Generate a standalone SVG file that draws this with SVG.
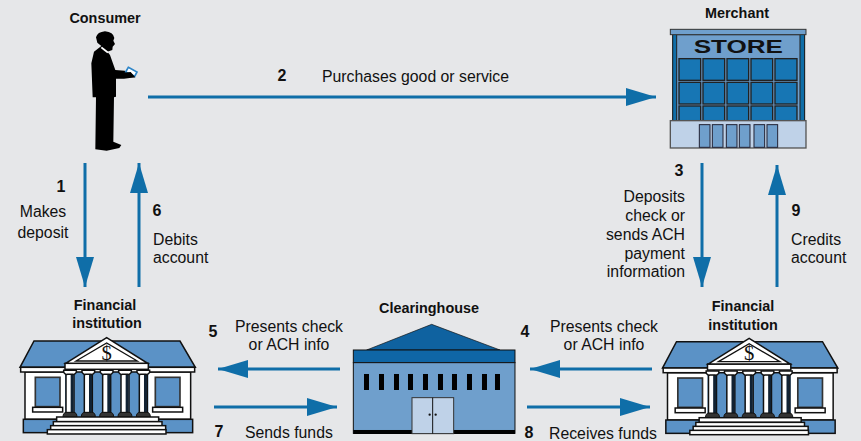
<svg xmlns="http://www.w3.org/2000/svg" width="861" height="441" viewBox="0 0 861 441">
<style>
text{font-family:"Liberation Sans",Arial,sans-serif;fill:#111}
.t{font-size:15.8px}
.b{font-size:14.4px;font-weight:bold;text-anchor:middle}
.n{font-size:16px;font-weight:bold;text-anchor:middle}
.m{text-anchor:middle}
.e{text-anchor:end}
.c{stroke:#0f6ea8;stroke-width:3;fill:none;marker-end:url(#ah)}
.k{stroke:#111;stroke-width:4.5}
.w{fill:#fff}
.bl{fill:#5b92c6}
</style>
<defs>
<marker id="ah" markerUnits="userSpaceOnUse" markerWidth="32" markerHeight="20" refX="30" refY="10" orient="auto"><path d="M0 1L30 10L0 19Z" fill="#0f6ea8"/></marker>
<g id="col"><rect x="-12" y="146" width="24" height="118" class="w k"/><rect x="2" y="148" width="9" height="114" fill="#123"/><path d="M-19 136H19V142Q14 150 8 148H-8Q-14 150 -19 142Z" class="w k"/><path d="M-21 276Q-21 262 -10 262H10Q21 262 21 276Z" fill="#333" stroke="#111" stroke-width="3"/></g>
<g id="bank">
<path d="M72 48H510L556 127H30Z" class="bl k"/>
<rect x="45" y="141" width="497" height="142" class="w k"/>
<rect x="165" y="130" width="250" height="146" class="bl"/>
<rect x="32" y="127" width="522" height="14" class="w k"/>
<rect x="76" y="157" width="74" height="88" class="bl" stroke="#333" stroke-width="5"/>
<rect x="68" y="247" width="90" height="14" class="w k"/>
<rect x="436" y="157" width="74" height="88" class="bl" stroke="#333" stroke-width="5"/>
<rect x="428" y="247" width="90" height="14" class="w k"/>
<rect x="40" y="283" width="508" height="40" class="bl k"/>
<use href="#col" x="180"/><use href="#col" x="235"/><use href="#col" x="290"/><use href="#col" x="345"/><use href="#col" x="400"/>
<rect x="140" y="276" width="306" height="14" class="w k"/>
<rect x="130" y="290" width="326" height="13" class="w k"/>
<rect x="122" y="302" width="345" height="13" class="w k"/>
<rect x="112" y="314" width="356" height="13" class="w k"/>
<rect x="165" y="115" width="250" height="18" class="w k"/>
<path d="M167 115L290 38L413 115Z" class="w k"/>
<path d="M198 108L290 54L382 108Z" fill="none" stroke="#111" stroke-width="4"/>
<text x="290" y="104" text-anchor="middle" style="font-family:'Liberation Serif',serif;font-size:62px;font-weight:normal">$</text>
</g>
</defs>
<rect width="861" height="441" fill="#e6e7e9"/>
<g id="connectors">
<path class="c" d="M148 97H656"/>
<path class="c" d="M85 163V287"/>
<path class="c" d="M139 287V163"/>
<path class="c" d="M702 163V287"/>
<path class="c" d="M777 287V165"/>
<path class="c" d="M340 369H218"/>
<path class="c" d="M652 369H530"/>
<path class="c" d="M214 407H337"/>
<path class="c" d="M527 407H650"/>
</g>
<g id="consumer">
<text class="b" x="105" y="23">Consumer</text>
<g transform="translate(60,0) scale(.3333)">
<path d="M108 112Q112 96 135 94Q160 96 163 114L160 122L165 132L158 140L157 150L142 155L150 165L166 210L194 212L226 232L192 236L168 236L168 290L162 292L160 425L184 435L178 444L140 452L106 448L108 292L98 292L94 190L102 155L124 138L112 128Z" fill="#000"/>
<path d="M205 202L231 216L224 229L197 216Z" fill="#fff" stroke="#2f86c8" stroke-width="5"/>
<path d="M126 140L146 156L142 160L122 144Z" fill="#fff"/>
<path d="M188 218L212 216L226 232H192Z" fill="#000"/>
</g>
</g>
<g id="merchant">
<text class="b" x="737" y="18">Merchant</text>
<g transform="translate(660,0) scale(.3333)">
<rect x="38" y="100" width="396" height="270" fill="#0f6ea8" stroke="#111" stroke-width="3"/>
<rect x="50" y="104" width="370" height="270" fill="#6f9fcc" stroke="#222" stroke-width="3"/>
<rect x="31" y="88" width="407" height="16" fill="#6f9fcc" stroke="#333" stroke-width="3"/>
<text x="235" y="158" text-anchor="middle" style="font-size:56px;font-weight:bold" textLength="268" lengthAdjust="spacingAndGlyphs">STORE</text>
<g fill="#1776b4" stroke="#222" stroke-width="4">
<rect x="57" y="176" width="65" height="65"/><rect x="129" y="176" width="65" height="65"/><rect x="201" y="176" width="65" height="65"/><rect x="273" y="176" width="65" height="65"/><rect x="345" y="176" width="66" height="65"/>
<rect x="57" y="247" width="65" height="65"/><rect x="129" y="247" width="65" height="65"/><rect x="201" y="247" width="65" height="65"/><rect x="273" y="247" width="65" height="65"/><rect x="345" y="247" width="66" height="65"/>
<rect x="57" y="318" width="65" height="50"/><rect x="129" y="318" width="65" height="50"/><rect x="201" y="318" width="65" height="50"/><rect x="273" y="318" width="65" height="50"/><rect x="345" y="318" width="66" height="50"/>
</g>
<rect x="31" y="362" width="407" height="82" fill="#bfd2e8" stroke="#555" stroke-width="4"/>
<g fill="#6f9fcc" stroke="#223" stroke-width="3">
<rect x="118" y="374" width="32" height="68"/><rect x="157" y="374" width="32" height="68"/><rect x="199" y="374" width="32" height="68"/><rect x="238" y="374" width="32" height="68"/><rect x="282" y="374" width="32" height="68"/><rect x="321" y="374" width="32" height="68"/>
</g>
</g>
</g>
<g id="fi-left">
<text class="b" x="105" y="310">Financial</text><text class="b" x="107" y="328">institution</text>
<use href="#bank" transform="translate(10,325) scale(.3333)"/>
</g>
<g id="clearinghouse">
<text class="b" x="429" y="313">Clearinghouse</text>
<g transform="translate(340,315) scale(.3333)">
<path d="M80 105L275 28L480 105Z" fill="#0f62a0" stroke="#111" stroke-width="2"/>
<rect x="40" y="105" width="485" height="38" fill="#0f66a6" stroke="#111" stroke-width="3"/>
<rect x="40" y="143" width="485" height="212" fill="#6f9fcc" stroke="#111" stroke-width="3"/>
<rect x="40" y="345" width="485" height="12" fill="#000"/>
<g fill="#000"><rect x="72" y="177" width="15" height="48"/><rect x="117" y="177" width="15" height="48"/><rect x="162" y="177" width="15" height="48"/><rect x="204" y="177" width="15" height="48"/><rect x="249" y="177" width="15" height="48"/><rect x="294" y="177" width="15" height="48"/><rect x="336" y="177" width="15" height="48"/><rect x="381" y="177" width="15" height="48"/><rect x="426" y="177" width="15" height="48"/><rect x="465" y="177" width="15" height="48"/></g>
<rect x="216" y="248" width="125" height="108" fill="#bfd2e8" stroke="#333" stroke-width="3"/>
<path d="M278 248V356" stroke="#111" stroke-width="3"/>
<circle cx="269" cy="299" r="3.5" fill="#111"/><circle cx="287" cy="299" r="3.5" fill="#111"/>
</g>
</g>
<g id="fi-right">
<text class="b" x="743" y="311">Financial</text><text class="b" x="743" y="330">institution</text>
<use href="#bank" transform="translate(652.5,325.7) scale(.3333)"/>
</g>
<g id="labels">
<text class="n" x="282" y="81">2</text><text class="t" x="322" y="82">Purchases good or service</text>
<text class="n" x="61" y="192">1</text><text class="t m" x="43" y="217">Makes</text><text class="t m" x="43" y="238">deposit</text>
<text class="n" x="157" y="216">6</text><text class="t" x="153" y="245">Debits</text><text class="t" x="153" y="263">account</text>
<text class="n" x="679" y="176">3</text>
<text class="t e" x="685" y="202">Deposits</text><text class="t e" x="685" y="221">check or</text><text class="t e" x="685" y="240">sends ACH</text><text class="t e" x="685" y="259">payment</text><text class="t e" x="685" y="277">information</text>
<text class="n" x="796" y="216">9</text><text class="t" x="791" y="245">Credits</text><text class="t" x="791" y="263">account</text>
<text class="n" x="213" y="337">5</text><text class="t m" x="289" y="332">Presents check</text><text class="t m" x="289" y="350">or ACH info</text>
<text class="n" x="525" y="337">4</text><text class="t m" x="604" y="332">Presents check</text><text class="t m" x="604" y="350">or ACH info</text>
<text class="n" x="219" y="437">7</text><text class="t" x="245" y="438">Sends funds</text>
<text class="n" x="529" y="438">8</text><text class="t" x="549" y="439">Receives funds</text>
</g>
</svg>
